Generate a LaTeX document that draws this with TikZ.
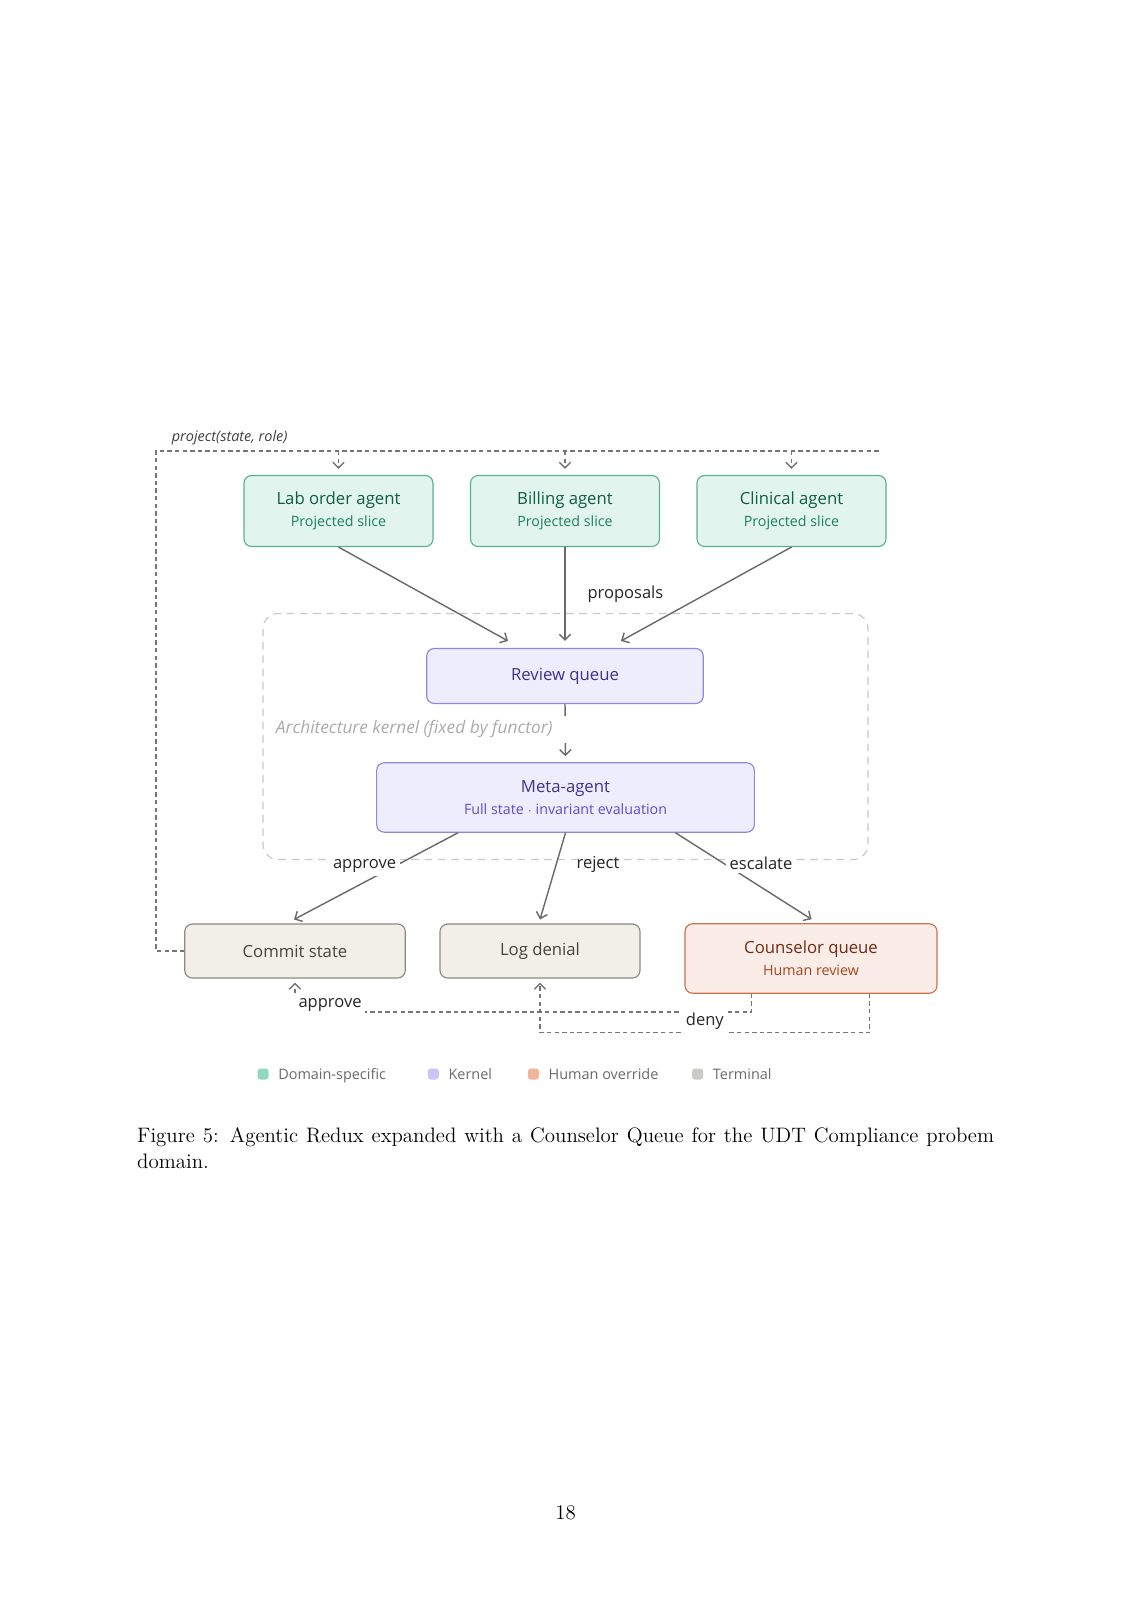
\documentclass[tikz,border=0pt]{standalone}
\usepackage{fontspec}
\setsansfont{Open Sans}
\usepackage{xcolor}
\usetikzlibrary{arrows.meta, positioning, calc}
\definecolor{domfill}{HTML}{E1F5EE}
\definecolor{domdraw}{HTML}{5DB08F}
\definecolor{domtext}{HTML}{0F5C45}
\definecolor{domsub}{HTML}{1D8060}
\definecolor{kerfill}{HTML}{EEEDFE}
\definecolor{kerdraw}{HTML}{8F87E0}
\definecolor{kertext}{HTML}{3C3489}
\definecolor{kersub}{HTML}{5B50C8}
\definecolor{humfill}{HTML}{FAECE7}
\definecolor{humdraw}{HTML}{D0704E}
\definecolor{humtext}{HTML}{712B13}
\definecolor{humsub}{HTML}{A8431F}
\definecolor{termfill}{HTML}{F1EFE8}
\definecolor{termdraw}{HTML}{8A8984}
\definecolor{termtext}{HTML}{444441}
\definecolor{flowgray}{HTML}{6A6A6A}
\definecolor{loopgray}{HTML}{767676}
\definecolor{kernelline}{HTML}{C8C8C8}
\definecolor{kernellabel}{HTML}{ABABAB}
\definecolor{legtext}{HTML}{6B6B6B}
\definecolor{legdom}{HTML}{8FD9BF}
\definecolor{legker}{HTML}{C9C5F6}
\definecolor{leghum}{HTML}{F2B39C}
\definecolor{legterm}{HTML}{CBCAC4}
\newdimen\upx \upx=0.5263pt
\newcommand{\subline}[1]{{\fontsize{7.5}{9}\selectfont #1}}

\begin{document}
\begin{tikzpicture}[
    x=0.5263pt, y=-0.5263pt,
    box/.style={draw, rounded corners=4pt, line width=0.6pt, align=center, inner sep=0pt, font=\sffamily\fontsize{8.8}{12.4}\selectfont},
    agentbox/.style={box, fill=domfill, draw=domdraw, text=domtext, minimum width=189\upx, minimum height=71\upx},
    kernbox/.style={box, fill=kerfill, draw=kerdraw, text=kertext},
    humanbox/.style={box, fill=humfill, draw=humdraw, text=humtext},
    termbox/.style={box, fill=termfill, draw=termdraw, text=termtext, minimum height=54\upx},
    flow/.style={-{Straight Barb[length=3pt,width=6pt]}, line width=0.75pt, flowgray},
    loopline/.style={line width=0.75pt, loopgray, dash pattern=on 2.3pt off 1.7pt},
    looptip/.style={loopline, -{Straight Barb[length=3pt,width=6pt]}},
    lbl/.style={font=\sffamily\fontsize{8.7}{10}\selectfont, text=black!85, fill=white, inner sep=2pt},
    legsq/.style={rounded corners=1.5pt, minimum size=11\upx, inner sep=0pt},
    legtxt/.style={font=\sffamily\fontsize{7.6}{9}\selectfont, text=legtext, inner sep=0pt, text height=5.6pt, text depth=1.6pt, yshift=-2\upx},
    capt/.style={text width=451pt, align=justify, inner sep=0pt, font=\rmfamily\fontsize{11}{13.6}\selectfont},
]
    \fill[white] (0,0) rectangle (1131,1600);
    \useasboundingbox (0,0) rectangle (1131,1600);

    % Kernel region
    \node[draw=kernelline, line width=0.6pt, dash pattern=on 4pt off 3pt, rounded corners=8pt,
          minimum width=605\upx, minimum height=246\upx, inner sep=0pt] (kernel) at (565.5,736.5) {};
    \node[font=\sffamily\itshape\fontsize{9.1}{10}\selectfont, text=kernellabel, anchor=west, inner sep=0pt] (kernlabel) at (275.6,729) {Architecture kernel (fixed by functor)};

    % Agents
    \node[agentbox] (lab) at (338.5,511) {Lab order agent\\[-1pt]\subline{\color{domsub}Projected slice}};
    \node[agentbox] (billing) at (565,511) {Billing agent\\[-1pt]\subline{\color{domsub}Projected slice}};
    \node[agentbox] (clinical) at (791.5,511) {Clinical agent\\[-1pt]\subline{\color{domsub}Projected slice}};

    % Kernel nodes
    \node[kernbox, minimum width=276.6\upx, minimum height=55\upx] (review) at (565,676) {Review queue};
    \node[kernbox, minimum width=377.7\upx, minimum height=69.4\upx] (meta) at (565.5,797.5) {Meta-agent\\[-1pt]\subline{\color{kersub}Full state $\cdot$ invariant evaluation}};

    % Outcomes
    \node[termbox, minimum width=220.5\upx] (commit) at (295,951) {Commit state};
    \node[termbox, minimum width=200\upx] (logd) at (540,951) {Log denial};
    \node[humanbox, minimum width=252\upx, minimum height=69.4\upx] (counselor) at (811,958.5) {Counselor queue\\[-1pt]\subline{\color{humsub}Human review}};

    % Projection loop
    \coordinate (loopbl) at (156,951);
    \coordinate (looptl) at (156,451);
    \coordinate (looptr) at (879,451);
    \node[font=\sffamily\itshape\fontsize{7.6}{9}\selectfont, text=black!75, anchor=west, inner sep=0pt] (projlabel) at (171.5,438) {project(state, role)};
    \draw[loopline] (commit.west) -- (loopbl) -- (looptl) -- (looptr);
    \draw[looptip, shorten >=6\upx] (lab.north |- looptl) -- (lab.north);
    \draw[looptip, shorten >=6\upx] (billing.north |- looptl) -- (billing.north);
    \draw[looptip, shorten >=6\upx] (clinical.north |- looptl) -- (clinical.north);

    % Proposals
    \draw[flow] (lab.south) -- ([shift={(-57,-7)}]review.north);
    \draw[flow] (billing.south) -- node[lbl, pos=0.5, right=18\upx, fill=none] (proplabel) {proposals} ([shift={(0,-7)}]review.north);
    \draw[flow] (clinical.south) -- ([shift={(56,-7)}]review.north);
    \draw[flow, dash pattern=on 6.3pt off 14.2pt on 20pt off 1pt] (review.south) -- ([shift={(0,-6)}]meta.north);

    % Decisions
    \draw[flow] ([xshift=-107.5\upx]meta.south) -- node[lbl, pos=0.35, anchor=east, yshift=-3\upx] (applabel) {approve} ([shift={(-1,-4)}]commit.north);
    \draw[flow] (meta.south) -- node[lbl, pos=0.37, right=16\upx, fill=none] (rejlabel) {reject} ([shift={(0,-4)}]logd.north);
    \draw[flow] ([xshift=110\upx]meta.south) -- node[lbl, pos=0.35, anchor=west, xshift=2\upx] (esclabel) {escalate} ([shift={(0.5,-4)}]counselor.north);

    % Human override returns
    \draw[looptip] ([xshift=-59.7\upx]counselor.south) -- ++(0,18.4) -| node[lbl, pos=0.5, anchor=south west, xshift=-4\upx, yshift=-4\upx] (app2label) {\hspace*{3\upx}approve} ([shift={(0,4)}]commit.south);
    \draw[looptip] ([xshift=58.7\upx]counselor.south) -- ++(0,38.8) -| node[lbl, pos=0.25, yshift=11\upx] (denylabel) {deny} ([shift={(0,4)}]logd.south);

    % Legend
    \node[legsq, fill=legdom] (sqdom) at (263,1074) {};
    \node[legtxt, right=9\upx of sqdom] (txtdom) {Domain-specific};
    \node[legsq, fill=legker] (sqker) at (433.3,1074) {};
    \node[legtxt, right=9\upx of sqker] (txtker) {Kernel};
    \node[legsq, fill=leghum] (sqhum) at (533.4,1074) {};
    \node[legtxt, right=9\upx of sqhum] (txthum) {Human override};
    \node[legsq, fill=legterm] (sqterm) at (697.7,1074) {};
    \node[legtxt, right=9\upx of sqterm] (txtterm) {Terminal};

    % Caption and page number
    \node[capt, anchor=north west] (caption) at (136.8,1127) {Figure 5: Agentic Redux expanded with a Counselor Queue for the UDT Compliance probem domain.};
    \node[font=\rmfamily\fontsize{11}{13.6}\selectfont, inner sep=0pt] (pagenum) at (565.5,1513) {18};
\end{tikzpicture}
\end{document}
